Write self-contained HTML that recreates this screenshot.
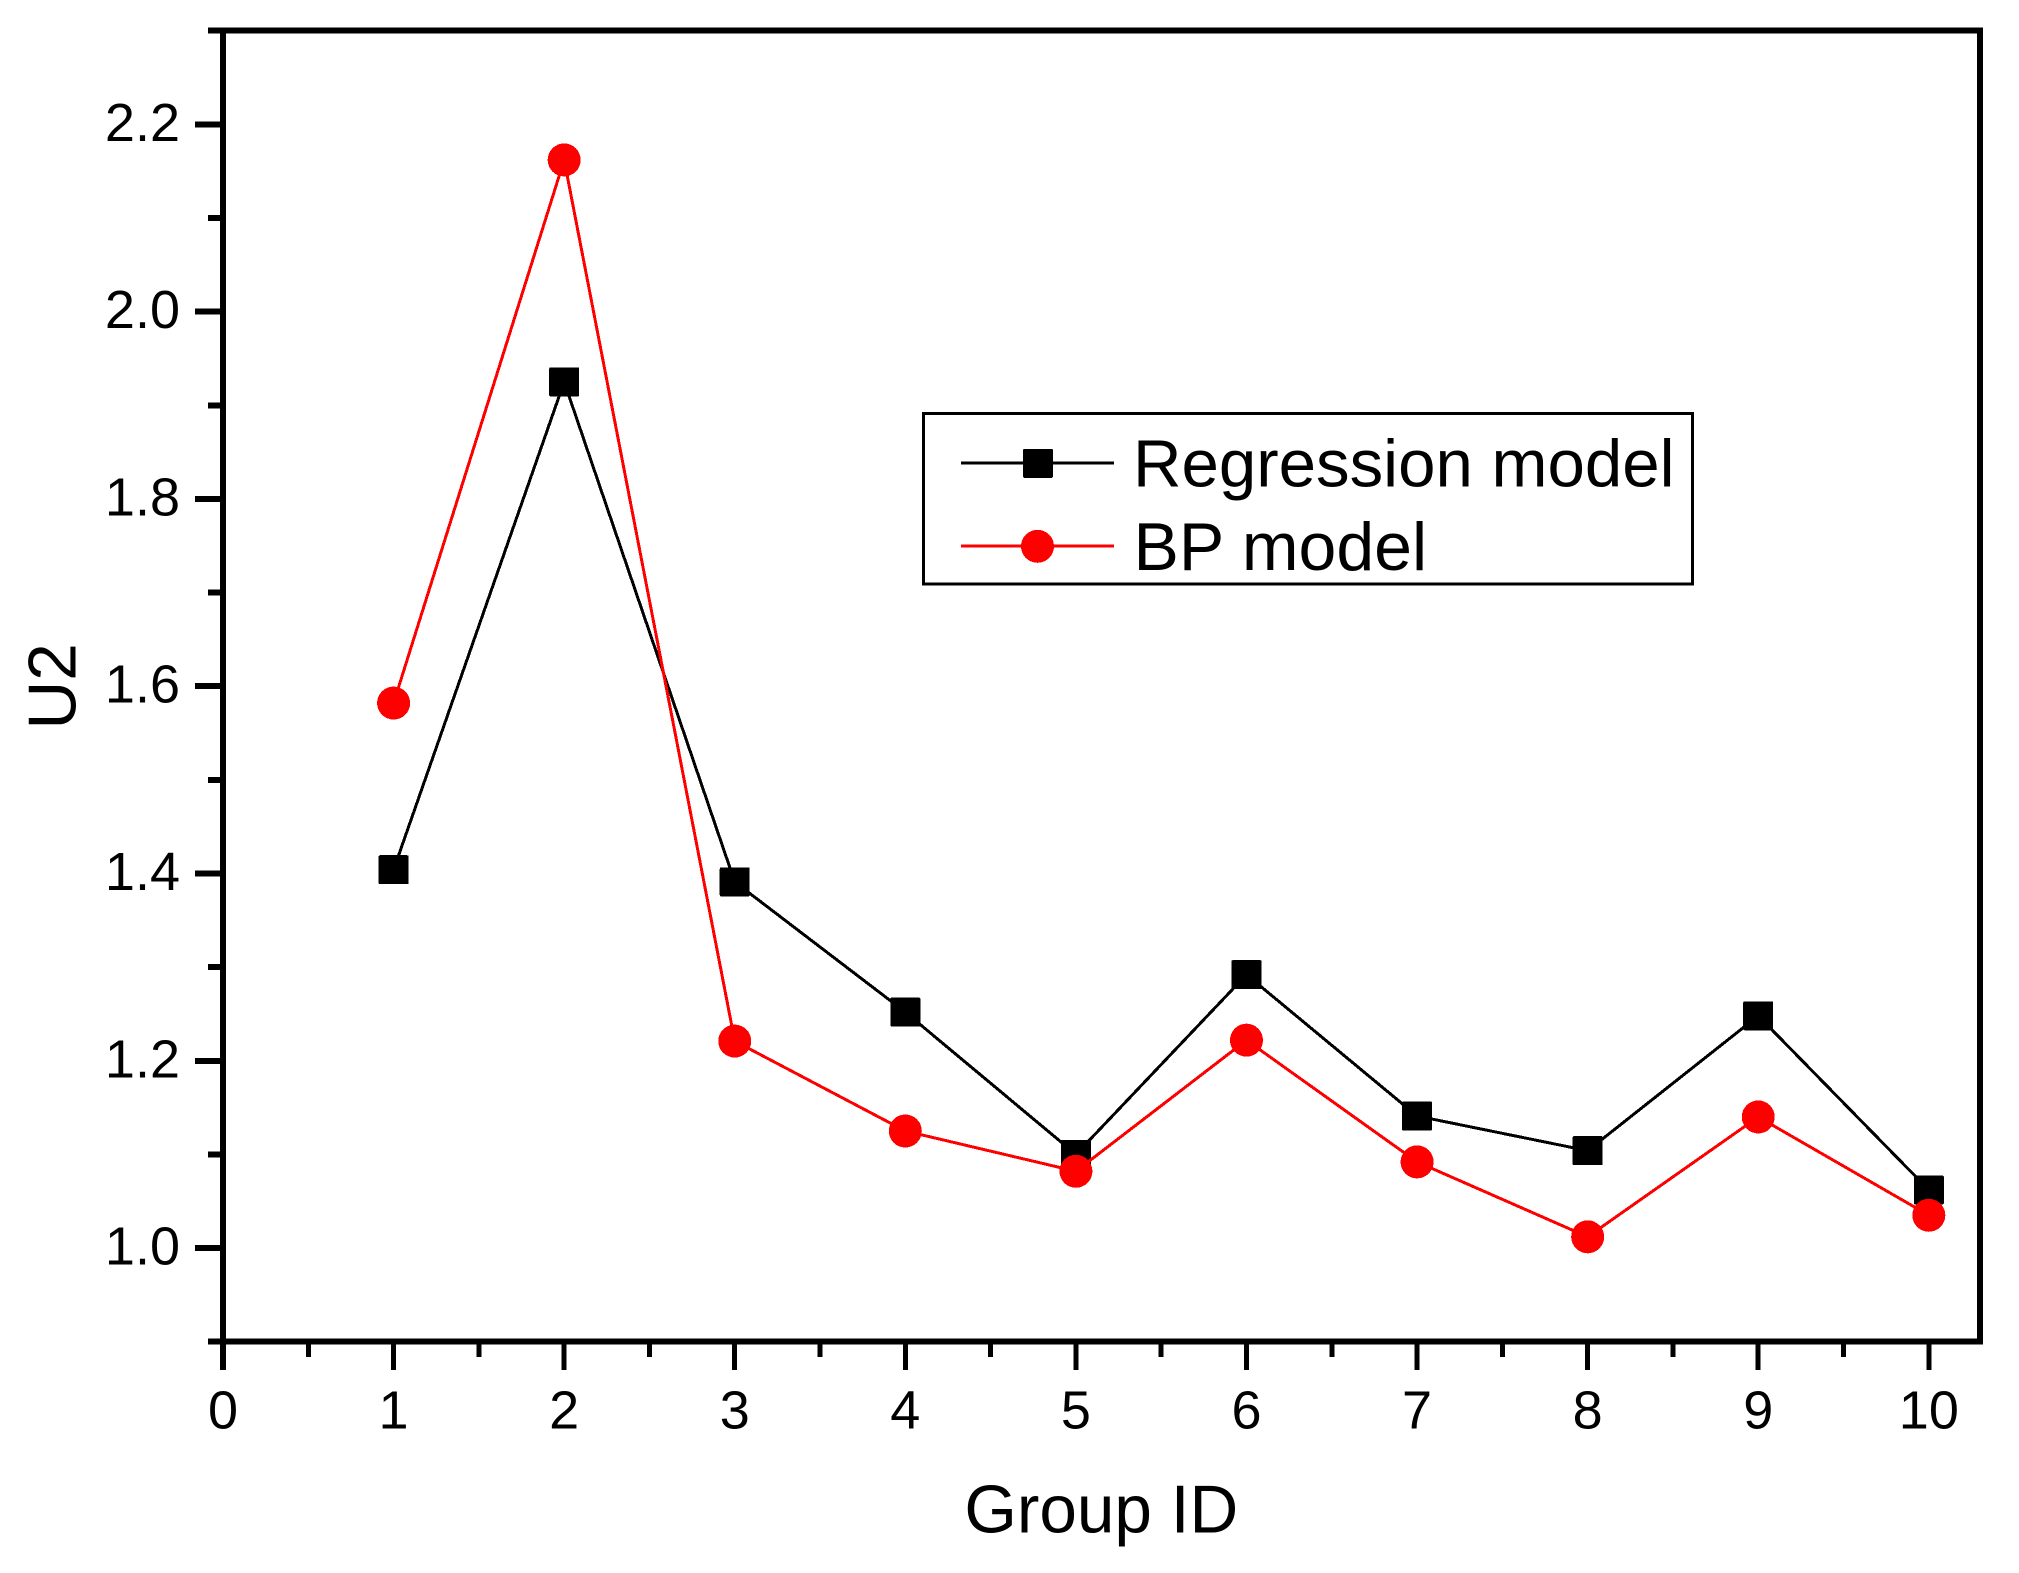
<!DOCTYPE html>
<html lang="en">
<head>
<meta charset="utf-8">
<title>U2 by Group ID</title>
<style>
  html, body { margin: 0; padding: 0; background: #fff; }
  svg { display: block; }
  text { font-family: "Liberation Sans", Arial, sans-serif; fill: #000; }
</style>
</head>
<body>
<svg id="chart" xmlns="http://www.w3.org/2000/svg" width="2019" height="1573" viewBox="0 0 2019 1573" shape-rendering="crispEdges">
  <rect x="0" y="0" width="2019" height="1573" fill="#fff"/>
  <g id="axes"></g>
  <g id="series"></g>
  <text x="1101.3" y="1532.7" font-size="67.5" text-anchor="middle">Group ID</text>
  <text transform="translate(75.5 686.4) rotate(-90)" font-size="67.5" text-anchor="middle">U2</text>
  <g>
    <rect x="923.3" y="413.7" width="769" height="170.3" fill="#fff" stroke="#000" stroke-width="3"/>
    <g>
      <line x1="961" y1="463" x2="1114" y2="463" stroke="#000" stroke-width="3"/>
      <rect x="1023" y="448.8" width="30" height="29" rx="1.5" fill="#000"/>
      <text x="1133" y="486.6" font-size="67.2">Regression model</text>
    </g>
    <g>
      <line x1="961" y1="546" x2="1114" y2="546" stroke="#f00" stroke-width="3"/>
      <circle cx="1037.5" cy="546.3" r="16.5" fill="#f00"/>
      <text x="1133.5" y="570" font-size="68">BP model</text>
    </g>
  </g>
</svg>
<script>
const categories = [1, 2, 3, 4, 5, 6, 7, 8, 9, 10];
const regressionValues = [1.404, 1.925, 1.391, 1.252, 1.100, 1.292, 1.141, 1.104, 1.248, 1.062];
const bpValues = [1.582, 2.162, 1.221, 1.125, 1.082, 1.222, 1.092, 1.012, 1.140, 1.035];
const xTickValues = [0, 1, 2, 3, 4, 5, 6, 7, 8, 9, 10];
const xTickLabels = ['0', '1', '2', '3', '4', '5', '6', '7', '8', '9', '10'];
const xMinorTicks = [0.5, 1.5, 2.5, 3.5, 4.5, 5.5, 6.5, 7.5, 8.5, 9.5];
const yTickValues = [1.0, 1.2, 1.4, 1.6, 1.8, 2.0, 2.2];
const yTickLabels = ['1.0', '1.2', '1.4', '1.6', '1.8', '2.0', '2.2'];
const yMinorTicks = [0.9, 1.1, 1.3, 1.5, 1.7, 1.9, 2.1, 2.3];

const NS = 'http://www.w3.org/2000/svg';
const axisLeft = 223, axisRight = 1980, axisTop = 30.7, axisBottom = 1341.7;
const xDomainMin = 0, xDomainMax = 10.3;
const yDomainMin = 0.9, yDomainMax = 2.3;

function xScale(v) {
  return axisLeft + (v - xDomainMin) / (xDomainMax - xDomainMin) * (axisRight - axisLeft);
}
function yScale(v) {
  return axisBottom - (v - yDomainMin) / (yDomainMax - yDomainMin) * (axisBottom - axisTop);
}
function make(tag, attrs, parent) {
  const el = document.createElementNS(NS, tag);
  for (const k in attrs) el.setAttribute(k, attrs[k]);
  parent.appendChild(el);
  return el;
}

const axes = document.getElementById('axes');
const seriesLayer = document.getElementById('series');

const frameLeft = make('line', { x1: axisLeft, y1: axisTop - 3, x2: axisLeft, y2: axisBottom + 3, stroke: '#000', 'stroke-width': 6 }, axes);


const frameBottom = make('line', { x1: axisLeft - 3, y1: axisBottom, x2: axisRight + 3, y2: axisBottom, stroke: '#000', 'stroke-width': 6 }, axes);


const frameTop = make('line', { x1: axisLeft - 3, y1: axisTop, x2: axisRight + 3, y2: axisTop, stroke: '#000', 'stroke-width': 6 }, axes);


const frameRight = make('line', { x1: axisRight, y1: axisTop - 3, x2: axisRight, y2: axisBottom + 3, stroke: '#000', 'stroke-width': 6 }, axes);



xTickValues.forEach(function (v, i) {
  const tick = make('line', { x1: xScale(v), y1: axisBottom, x2: xScale(v), y2: 1370, stroke: '#000', 'stroke-width': i === 0 ? 6 : 5 }, axes);
  
  
  const label = make('text', { x: xScale(v), y: 1428.7, 'font-size': 54, 'text-anchor': 'middle' }, axes);
  
  
  label.textContent = xTickLabels[i];
});
xMinorTicks.forEach(function (v) {
  const tick = make('line', { x1: xScale(v), y1: axisBottom, x2: xScale(v), y2: 1357, stroke: '#000', 'stroke-width': 5 }, axes);
  
  
});
yTickValues.forEach(function (v, i) {
  const tick = make('line', { x1: 195, y1: yScale(v), x2: axisLeft, y2: yScale(v), stroke: '#000', 'stroke-width': 6 }, axes);
  
  
  const label = make('text', { x: 180, y: yScale(v) + 16.5, 'font-size': 54, 'text-anchor': 'end' }, axes);
  
  
  label.textContent = yTickLabels[i];
});
yMinorTicks.forEach(function (v) {
  const tick = make('line', { x1: 208, y1: yScale(v), x2: axisLeft, y2: yScale(v), stroke: '#000', 'stroke-width': 6 }, axes);
  
  
});

function linePoints(values) {
  return values.map(function (v, i) {
    return xScale(categories[i]).toFixed(2) + ',' + yScale(v).toFixed(2);
  }).join(' ');
}

const regressionLine = make('polyline', { points: linePoints(regressionValues), fill: 'none', stroke: '#000', 'stroke-width': 3 }, seriesLayer);


regressionValues.forEach(function (v, i) {
  const square = make('rect', { x: xScale(categories[i]) - 15, y: yScale(v) - 14.5, width: 30, height: 29, rx: 1.5, fill: '#000' }, seriesLayer);
  
  
});

const bpLine = make('polyline', { points: linePoints(bpValues), fill: 'none', stroke: '#f00', 'stroke-width': 3 }, seriesLayer);


bpValues.forEach(function (v, i) {
  const dot = make('circle', { cx: xScale(categories[i]), cy: yScale(v), r: 16.5, fill: '#f00' }, seriesLayer);
  
  
});
</script>
</body>
</html>
